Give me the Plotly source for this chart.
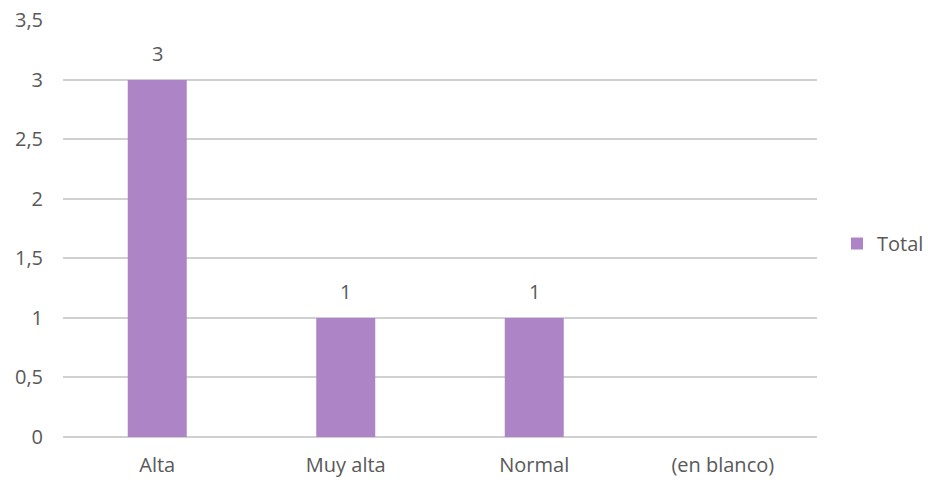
import plotly.graph_objects as go

categories = ["Alta", "Muy alta", "Normal", "(en blanco)"]
totals = [3, 1, 1, None]
y_ticks = [0, 0.5, 1, 1.5, 2, 2.5, 3, 3.5]
y_tick_labels = ["0", "0,5", "1", "1,5", "2", "2,5", "3", "3,5"]

BAR_COLOR = "#AD84C6"
TEXT_COLOR = "#595959"
GRID_COLOR = "#D0D0D0"
FONT = "Open Sans, Lato, sans-serif"
FS = 20

fig = go.Figure()
fig.add_trace(go.Bar(
    x=categories,
    y=totals,
    name="Total",
    marker=dict(color=BAR_COLOR, line=dict(width=0)),
    showlegend=True,
))

# value labels above each bar
for cat, val in zip(categories, totals):
    if val is None:
        continue
    fig.add_annotation(
        x=cat, y=val, text=str(val), showarrow=False,
        yanchor="bottom", yshift=11,
        font=dict(family=FONT, size=FS, color=TEXT_COLOR),
    )

fig.update_layout(
    width=928, height=482,
    margin=dict(l=63, r=111, t=20, b=45, autoexpand=False),
    paper_bgcolor="white", plot_bgcolor="white",
    font=dict(family=FONT, size=FS, color=TEXT_COLOR),
    bargap=0.687,
    legend=dict(
        x=1.0265, y=0.464, xanchor="left", yanchor="middle",
        font=dict(family=FONT, size=FS, color=TEXT_COLOR),
        itemwidth=30, bgcolor="rgba(0,0,0,0)",
    ),
    xaxis=dict(
        showgrid=False, showline=False, zeroline=False,
        ticks="", tickfont=dict(size=FS, color=TEXT_COLOR),
        ticklabelstandoff=14,
    ),
    yaxis=dict(
        range=[0, 3.503], tickvals=y_ticks, ticktext=y_tick_labels,
        showgrid=True, gridcolor=GRID_COLOR, gridwidth=2,
        zeroline=True, zerolinecolor=GRID_COLOR, zerolinewidth=2,
        showline=False, ticks="", ticklabelstandoff=19,
        tickfont=dict(size=FS, color=TEXT_COLOR),
    ),
)

fig.write_html("out.html")
